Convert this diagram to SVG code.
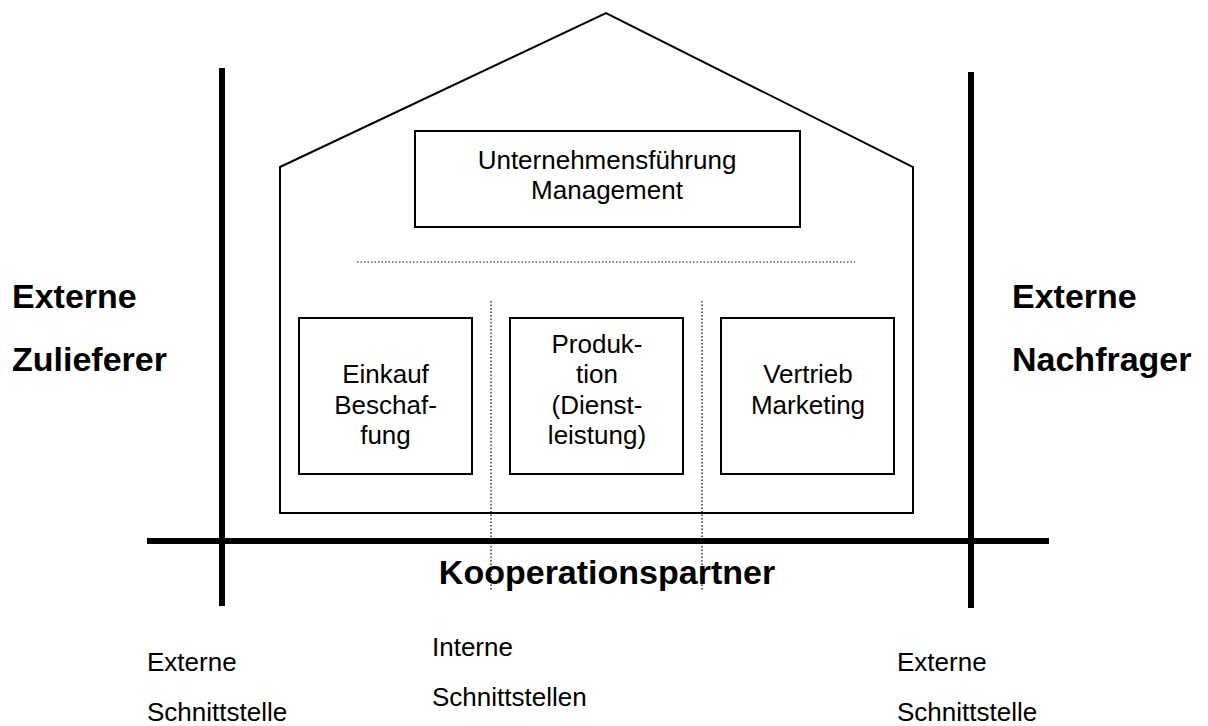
<svg xmlns="http://www.w3.org/2000/svg" width="1208" height="726" viewBox="0 0 1208 726">
<style>
.box{fill:#fff;stroke:#000;stroke-width:2}
.house{fill:#fff;stroke:#000;stroke-width:2}
.thick{stroke:#000;stroke-width:6;fill:none}
.dot{stroke:#000;stroke-width:1.2;stroke-dasharray:1.5 2;fill:none}
.t{font-family:"Liberation Sans",Arial,sans-serif;font-size:26px;fill:#000}
.c{text-anchor:middle}
.b{font-family:"Liberation Sans",Arial,sans-serif;font-size:34px;font-weight:bold;fill:#000}
</style>
<rect width="1208" height="726" fill="#fff"/>
<g id="house">
<polygon class="house" points="280,167 606,13 913,167 913,513 280,513"/>
</g>
<g id="connectors">
<line class="dot" x1="357" y1="262" x2="855" y2="262"/>
<line class="dot" x1="491" y1="301" x2="491" y2="590"/>
<line class="dot" x1="702" y1="301" x2="702" y2="590"/>
<line class="thick" x1="147" y1="541" x2="1049" y2="541"/>
<line class="thick" x1="222" y1="68" x2="222" y2="606"/>
<line class="thick" x1="971" y1="72" x2="971" y2="608"/>
</g>
<g id="management">
<rect class="box" x="415" y="131" width="385" height="96"/>
<text class="t c" x="607" y="169">Unternehmensführung</text>
<text class="t c" x="607" y="199">Management</text>
</g>
<g id="einkauf">
<rect class="box" x="299" y="318" width="173" height="156"/>
<text class="t c" x="385.5" y="383">Einkauf</text>
<text class="t c" x="385.5" y="414">Beschaf-</text>
<text class="t c" x="385.5" y="444">fung</text>
</g>
<g id="produktion">
<rect class="box" x="510" y="318" width="173" height="156"/>
<text class="t c" x="597" y="353">Produk-</text>
<text class="t c" x="597" y="383">tion</text>
<text class="t c" x="597" y="414">(Dienst-</text>
<text class="t c" x="597" y="444">leistung)</text>
</g>
<g id="vertrieb">
<rect class="box" x="721" y="318" width="173" height="156"/>
<text class="t c" x="808" y="383">Vertrieb</text>
<text class="t c" x="808" y="414">Marketing</text>
</g>
<g id="zulieferer">
<text class="b" x="12" y="308">Externe</text>
<text class="b" x="12" y="371">Zulieferer</text>
</g>
<g id="nachfrager">
<text class="b" x="1012" y="308">Externe</text>
<text class="b" x="1012" y="371">Nachfrager</text>
</g>
<g id="kooperation">
<text class="b c" x="607" y="584">Kooperationspartner</text>
</g>
<g id="bottom-labels">
<text class="t" x="147" y="671">Externe</text>
<text class="t" x="147" y="721">Schnittstelle</text>
<text class="t" x="432" y="656">Interne</text>
<text class="t" x="432" y="706">Schnittstellen</text>
<text class="t" x="897" y="671">Externe</text>
<text class="t" x="897" y="721">Schnittstelle</text>
</g>
</svg>
